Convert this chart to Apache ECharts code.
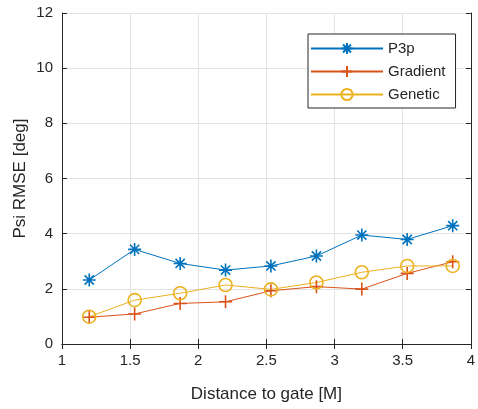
<!DOCTYPE html>
<html><head><meta charset="utf-8">
<script src="https://cdn.jsdelivr.net/npm/echarts@6/dist/echarts.min.js"></script>
<style>html,body{margin:0;padding:0;background:#fff}#c{width:478px;height:409px}</style>
</head><body><div id="c"></div>
<script>
const distances = [1.2, 1.533, 1.867, 2.2, 2.533, 2.867, 3.2, 3.533, 3.867];
const p3p      = [2.32, 3.43, 2.92, 2.68, 2.83, 3.19, 3.95, 3.79, 4.29];
const gradient = [0.97, 1.09, 1.47, 1.53, 1.93, 2.08, 1.99, 2.56, 2.98];
const genetic  = [0.99, 1.59, 1.84, 2.14, 1.98, 2.23, 2.60, 2.83, 2.83];
const seriesNames = ['P3p', 'Gradient', 'Genetic'];
const colors = ['#0072BD', '#D95319', '#EDB120'];
const txt = '#262626';
const font = 'Liberation Sans, Arial, Helvetica, sans-serif';

const asterisk = 'path://M5,0L5,10M0,5L10,5M1.46,1.46L8.54,8.54M8.54,1.46L1.46,8.54';
const plus = 'path://M5,0L5,10M0,5L10,5';

function pts(ys){ return distances.map((x,i)=>[x, ys[i]]); }

const chart = echarts.init(document.getElementById('c'), null, {renderer:'canvas'});
const axisCommon = {
  axisLine:{show:true, lineStyle:{color:txt, width:1}},
  axisTick:{show:true, inside:true, length:5, lineStyle:{color:txt}},
};
chart.setOption({
  animation:false,
  backgroundColor:'#fff',
  grid:{left:62, right:5, top:13, bottom:65, containLabel:false},
  legend:{
    orient:'vertical', left:308, top:34,
    data:seriesNames,
    itemWidth:72, itemHeight:14, itemGap:8,
    padding:[7,10,6,2],
    borderColor:txt, borderWidth:1, backgroundColor:'#fff',
    textStyle:{color:txt, fontSize:15, fontFamily:font}
  },
  xAxis:[{
    type:'value', min:1, max:4, interval:0.5,
    name:'Distance to gate [M]', nameLocation:'middle', nameGap:42,
    nameTextStyle:{color:txt, fontSize:17, fontFamily:font},
    axisLabel:{color:txt, fontSize:15, fontFamily:font, margin:9},
    splitLine:{show:true, lineStyle:{color:'#e3e3e3', width:1}},
    ...axisCommon
  },{
    type:'value', min:1, max:4, interval:0.5, position:'top',
    axisLabel:{show:false}, splitLine:{show:false}, ...axisCommon
  }],
  yAxis:[{
    type:'value', min:0, max:12, interval:2,
    name:'Psi RMSE [deg]', nameLocation:'middle', nameGap:33, nameMoveOverlap:false,
    nameTextStyle:{color:txt, fontSize:17, fontFamily:font},
    axisLabel:{color:txt, fontSize:15, fontFamily:font, margin:9},
    splitLine:{show:true, lineStyle:{color:'#e3e3e3', width:1}},
    ...axisCommon
  },{
    type:'value', min:0, max:12, interval:2, position:'right',
    axisLabel:{show:false}, splitLine:{show:false}, ...axisCommon
  }],
  series:[
    {name:seriesNames[0], type:'line', data:pts(p3p), symbol:asterisk, symbolSize:13,
     lineStyle:{color:colors[0], width:1},
     itemStyle:{color:colors[0], borderColor:colors[0], borderWidth:1.6}},
    {name:seriesNames[1], type:'line', data:pts(gradient), symbol:plus, symbolSize:13,
     lineStyle:{color:colors[1], width:1},
     itemStyle:{color:colors[1], borderColor:colors[1], borderWidth:1.6}},
    {name:seriesNames[2], type:'line', data:pts(genetic), symbol:'circle', symbolSize:13,
     lineStyle:{color:colors[2], width:1},
     itemStyle:{color:'rgba(255,255,255,0)', borderColor:colors[2], borderWidth:1.6}}
  ]
});
</script></body></html>
